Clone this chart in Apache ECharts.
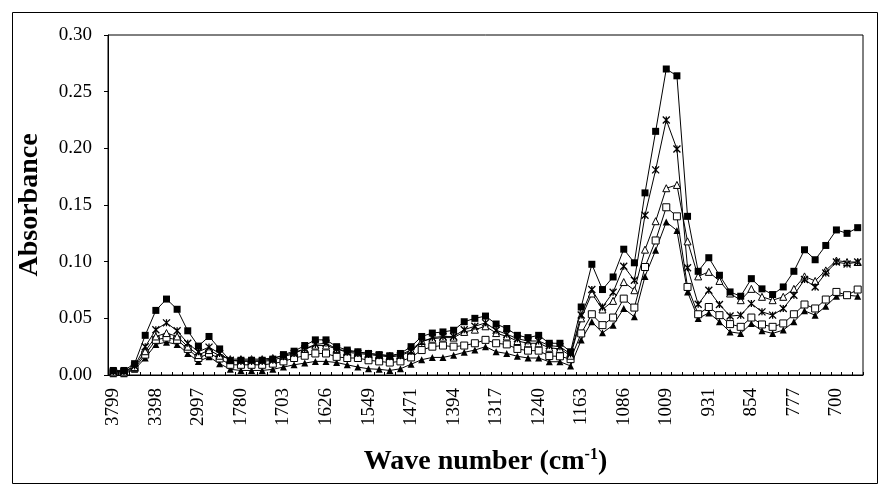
<!DOCTYPE html>
<html>
<head>
<meta charset="utf-8">
<script src="https://cdn.jsdelivr.net/npm/echarts@6/dist/echarts.min.js"></script>
<style>html,body{margin:0;padding:0;background:#fff;}#c{width:885px;height:491px;}</style>
</head>
<body>
<div id="c"></div>
<script>
var wavenumbers = [3799,3699,3598,3498,3398,3298,3198,3097,2997,2920,2850,1857,1780,1761,1742,1722,1703,1684,1665,1645,1626,1607,1588,1568,1549,1530,1510,1491,1471,1452,1433,1413,1394,1375,1356,1336,1317,1298,1279,1259,1240,1221,1202,1182,1163,1144,1125,1105,1086,1067,1048,1028,1009,990,970,951,931,912,893,873,854,835,816,796,777,758,739,719,700,681,662];

var filledSquare = [0.004,0.004,0.010,0.035,0.057,0.067,0.058,0.039,0.0255,0.034,0.023,0.0126,0.013,0.013,0.013,0.014,0.018,0.021,0.026,0.031,0.031,0.025,0.022,0.0205,0.019,0.018,0.017,0.019,0.025,0.034,0.037,0.038,0.0395,0.047,0.050,0.052,0.045,0.041,0.035,0.033,0.035,0.028,0.028,0.0205,0.060,0.0977,0.0754,0.0865,0.111,0.099,0.1607,0.215,0.270,0.264,0.140,0.0915,0.1035,0.088,0.0733,0.0695,0.085,0.076,0.071,0.0777,0.0915,0.1105,0.1017,0.1143,0.128,0.125,0.130];
var starMark = [0.003,0.003,0.008,0.025,0.040,0.046,0.039,0.028,0.0205,0.0246,0.019,0.013,0.012,0.012,0.012,0.013,0.016,0.019,0.023,0.027,0.028,0.023,0.020,0.019,0.018,0.017,0.016,0.017,0.021,0.029,0.033,0.034,0.034,0.040,0.043,0.046,0.0395,0.036,0.032,0.030,0.030,0.026,0.025,0.0185,0.053,0.0754,0.060,0.073,0.096,0.0836,0.141,0.181,0.225,0.1994,0.0947,0.0624,0.0748,0.0622,0.052,0.0528,0.063,0.0557,0.0528,0.0587,0.0704,0.0842,0.0777,0.090,0.0997,0.098,0.0997];
var openTriangle = [0.003,0.003,0.007,0.021,0.034,0.037,0.034,0.025,0.0176,0.022,0.017,0.014,0.014,0.014,0.014,0.015,0.017,0.020,0.023,0.026,0.026,0.023,0.021,0.020,0.019,0.018,0.017,0.018,0.022,0.030,0.032,0.033,0.033,0.038,0.040,0.043,0.037,0.034,0.030,0.028,0.028,0.024,0.023,0.017,0.050,0.0719,0.0578,0.0654,0.082,0.0748,0.1106,0.1357,0.1648,0.1677,0.1179,0.087,0.091,0.083,0.0719,0.066,0.076,0.069,0.066,0.069,0.076,0.087,0.083,0.0923,0.101,0.0997,0.0997];
var openSquare = [0.002,0.002,0.006,0.018,0.031,0.033,0.031,0.023,0.015,0.019,0.0146,0.009,0.009,0.009,0.009,0.010,0.012,0.015,0.017,0.019,0.019,0.016,0.015,0.015,0.013,0.012,0.011,0.012,0.0155,0.022,0.025,0.026,0.025,0.026,0.028,0.031,0.028,0.027,0.023,0.0215,0.0215,0.0167,0.0165,0.014,0.0367,0.0536,0.044,0.0507,0.0674,0.0595,0.0953,0.1187,0.148,0.140,0.0777,0.0536,0.060,0.0528,0.0449,0.0425,0.0507,0.0446,0.0425,0.0455,0.0536,0.0622,0.0587,0.0666,0.0733,0.0704,0.0754];
var filledTriangle = [0.001,0.001,0.005,0.015,0.027,0.029,0.027,0.019,0.012,0.016,0.010,0.005,0.004,0.004,0.004,0.005,0.007,0.009,0.0105,0.012,0.012,0.011,0.009,0.007,0.0055,0.005,0.004,0.0055,0.0095,0.0135,0.0155,0.0155,0.0175,0.020,0.022,0.025,0.0205,0.019,0.0165,0.015,0.015,0.0117,0.0117,0.008,0.0308,0.047,0.0372,0.044,0.0587,0.0513,0.087,0.110,0.135,0.1275,0.0733,0.0499,0.0548,0.047,0.038,0.0367,0.0455,0.039,0.0367,0.0396,0.047,0.0566,0.0528,0.0607,0.0695,0.0704,0.0695];

var yTicks = [0, 0.05, 0.10, 0.15, 0.20, 0.25, 0.30];

var serif = '"Liberation Serif","DejaVu Serif",serif';
var chart = echarts.init(document.getElementById('c'));

function mkSeries(name, data, symbol, fill, size, border) {
  return {
    name: name, type: 'line', data: data, symbol: symbol, symbolSize: size,
    showAllSymbol: true, animation: false,
    lineStyle: { color: '#000', width: 1 },
    itemStyle: { color: fill, borderColor: '#000', borderWidth: border },
    emphasis: { disabled: true }
  };
}

chart.setOption({
  animation: false,
  backgroundColor: '#fff',
  graphic: [{
    type: 'rect', left: 10, top: 10,
    shape: { width: 865, height: 471 },
    style: { fill: 'none', stroke: '#000', lineWidth: 1 }, z: -1
  }],
  grid: { left: 108, top: 35, width: 755, height: 340, show: true, borderColor: '#000', borderWidth: 1, backgroundColor: 'transparent' },
  xAxis: {
    type: 'category', data: wavenumbers.map(String), boundaryGap: true,
    name: '{a|Wave number (cm}{s|-1}{a|)}', nameLocation: 'middle', nameGap: 72,
    nameTextStyle: { rich: {
      a: { fontFamily: serif, fontSize: 28, fontWeight: 'bold', color: '#000' },
      s: { fontFamily: serif, fontSize: 16, fontWeight: 'bold', color: '#000', verticalAlign: 'top', padding: [0,0,14,0] }
    } },
    axisLine: { lineStyle: { color: '#000', width: 1 } },
    axisTick: { show: true, inside: true, length: 3, interval: 0, lineStyle: { color: '#000' } },
    axisLabel: { interval: 3, rotate: 90, fontFamily: serif, fontSize: 19, color: '#000', margin: 13 },
    splitLine: { show: false }
  },
  yAxis: {
    type: 'value', min: 0, max: 0.30, interval: 0.05,
    name: 'Absorbance', nameLocation: 'middle', nameGap: 64,
    nameTextStyle: { fontFamily: serif, fontSize: 28, fontWeight: 'bold', color: '#000' },
    axisLine: { show: true, lineStyle: { color: '#000', width: 1 } },
    axisTick: { show: true, inside: false, length: 4, lineStyle: { color: '#000' } },
    axisLabel: { fontFamily: serif, fontSize: 19, color: '#000', margin: 16,
      formatter: function (v) { return v.toFixed(2); } },
    splitLine: { show: false }
  },
  series: [
    mkSeries('filledTriangle', filledTriangle, 'triangle', '#000', 7, 0),
    mkSeries('openSquare', openSquare, 'rect', '#fff', 7, 1),
    mkSeries('openTriangle', openTriangle, 'triangle', '#fff', 7, 1),
    mkSeries('star', starMark, 'path://M0,0L10,10M10,0L0,10M5,0L5,10', 'none', 7, 1.3),
    mkSeries('filledSquare', filledSquare, 'rect', '#000', 7, 0)
  ]
});
</script>
</body>
</html>
